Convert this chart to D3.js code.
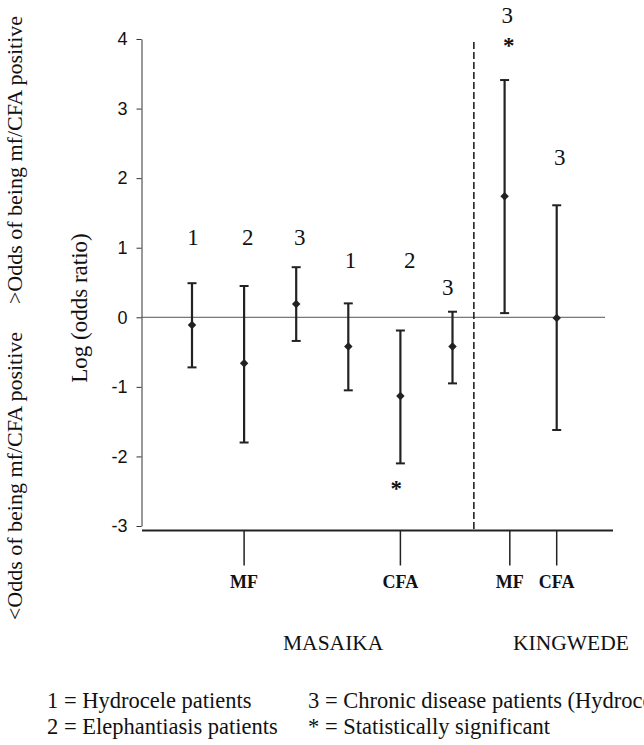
<!DOCTYPE html>
<html>
<head>
<meta charset="utf-8">
<script src="https://d3js.org/d3.v7.min.js"></script>
<style>
  body { margin: 0; background: #fff; }
  .tick text { font-family: "Liberation Sans"; font-size: 18px; fill: #111; }
</style>
</head>
<body>
<script>
// data (log odds ratio with 95% CI)
const sites    = ['MASAIKA', 'MASAIKA', 'MASAIKA', 'MASAIKA', 'MASAIKA', 'MASAIKA', 'KINGWEDE', 'KINGWEDE'];
const markers  = ['MF', 'MF', 'MF', 'CFA', 'CFA', 'CFA', 'MF', 'CFA'];
const groups   = ['1', '2', '3', '1', '2', '3', '3', '3'];
const estimate = [-0.11, -0.66, 0.19, -0.42, -1.13, -0.42, 1.74, -0.01];
const lower    = [-0.72, -1.80, -0.34, -1.05, -2.10, -0.95, 0.06, -1.62];
const upper    = [0.49, 0.45, 0.72, 0.20, -0.19, 0.08, 3.41, 1.61];
const signif   = [false, false, false, false, true, false, true, false];

// where the group numbers sit (index units, log odds)
const labelPos = [0.02, 1.07, 2.07, 3.04, 4.18, 4.91, 6.05, 7.06];
const labelY   = [1.16, 1.16, 1.16, 0.83, 0.83, 0.43, 4.35, 2.31];
const starPos  = [null, null, null, null, 3.92, null, 6.08, null];
const starY    = [null, null, null, null, -2.37, null, 4.0, null];

const yTicks = [-3, -2, -1, 0, 1, 2, 3, 4];
const xTickPos = [1, 4, 6.1, 7];
const xTickLabels = ['MF', 'CFA', 'MF', 'CFA'];
const siteNames = ['MASAIKA', 'KINGWEDE'];
const divider = 5.41;

const legendLeft = ['1 = Hydrocele patients', '2 = Elephantiasis patients'];
const legendRight = ['3 = Chronic disease patients (Hydrocele and Elephantiasis)', '* = Statistically significant'];

const serif = '"Liberation Serif"';
const width = 644, height = 745;
const svg = d3.select('body').append('svg').attr('width', width).attr('height', height);

const y = d3.scaleLinear().domain([-3, 4]).range([526, 39]);
const x = d3.scaleLinear().domain([0, 7]).range([192, 556.7]);
const axisX = 141.5, baseY = 530.5;

// y axis
svg.append('g').attr('transform', `translate(${axisX},0)`)
  .call(d3.axisLeft(y).tickValues(yTicks).tickFormat(d => String(d)).tickSize(5).tickSizeOuter(0).tickPadding(9))
  .call(g => g.attr('font-family', null).attr('font-size', null))
  .call(g => g.selectAll('path, line').attr('stroke', '#333'));

// zero reference line
svg.append('line').attr('x1', axisX).attr('x2', 605).attr('y1', y(0)).attr('y2', y(0))
  .attr('stroke', '#555').attr('stroke-width', 1);

// bottom line with category ticks
svg.append('line').attr('x1', 142).attr('x2', 613).attr('y1', baseY).attr('y2', baseY)
  .attr('stroke', '#222').attr('stroke-width', 2);
const xt = svg.append('g').selectAll('g').data(xTickPos).join('g')
  .attr('transform', d => `translate(${x(d)},${baseY})`);
xt.append('line').attr('y1', 0).attr('y2', 35).attr('stroke', '#222').attr('stroke-width', 1.5);
xt.append('text').style('font-family', serif).attr('fill', '#111').attr('y', 57).attr('text-anchor', 'middle')
  .attr('font-size', 18).attr('font-weight', 'bold').text((d, i) => xTickLabels[i]);

// dashed divider between the sites
svg.append('line').attr('x1', x(divider)).attr('x2', x(divider)).attr('y1', 42).attr('y2', baseY)
  .attr('stroke', '#222').attr('stroke-width', 1.6).attr('stroke-dasharray', '7,3');

// error bars
const rows = estimate.map((e, i) => ({i, e, lo: lower[i], hi: upper[i]}));
const bars = svg.append('g').selectAll('g').data(rows).join('g');
bars.append('line').attr('x1', d => x(d.i)).attr('x2', d => x(d.i))
  .attr('y1', d => y(d.lo)).attr('y2', d => y(d.hi)).attr('stroke', '#222').attr('stroke-width', 2.2);
bars.append('line').attr('x1', d => x(d.i) - 4.5).attr('x2', d => x(d.i) + 4.5)
  .attr('y1', d => y(d.hi)).attr('y2', d => y(d.hi)).attr('stroke', '#222').attr('stroke-width', 2);
bars.append('line').attr('x1', d => x(d.i) - 4.5).attr('x2', d => x(d.i) + 4.5)
  .attr('y1', d => y(d.lo)).attr('y2', d => y(d.lo)).attr('stroke', '#222').attr('stroke-width', 2);
bars.append('path').attr('d', d3.symbol(d3.symbolDiamond2, 46))
  .attr('transform', d => `translate(${x(d.i)},${y(d.e)})`).attr('fill', '#222');

// group numbers and significance stars
svg.append('g').selectAll('text').data(groups).join('text').style('font-family', serif).attr('fill', '#111')
  .attr('x', (d, i) => x(labelPos[i])).attr('y', (d, i) => y(labelY[i]))
  .attr('dy', '0.35em').attr('text-anchor', 'middle').attr('font-size', 23).text(d => d);
svg.append('g').selectAll('text').data(signif.map((s, i) => i).filter(i => signif[i])).join('text')
  .style('font-family', serif).attr('fill', '#111').attr('x', i => x(starPos[i])).attr('y', i => y(starY[i]))
  .attr('dy', '0.62em').attr('text-anchor', 'middle').attr('font-size', 23).attr('font-weight', 'bold').text('*');

// y titles
const title = (t, tx, ty, fs) => svg.append('text').style('font-family', serif).attr('fill', '#111')
  .attr('font-size', fs).attr('text-anchor', 'middle')
  .attr('transform', `translate(${tx},${ty}) rotate(-90)`).text(t);
title('Log (odds ratio)', 87, 308, 23);
title('>Odds of being mf/CFA positive', 22, 160, 22);
title('<Odds of being mf/CFA positive', 22, 476, 22);

// site names
svg.selectAll('.site').data(siteNames).join('text').attr('class', 'site').style('font-family', serif).attr('fill', '#111')
  .attr('x', (d, i) => [283, 513][i]).attr('y', 650).attr('font-size', 21.5).text(d => d);

// legend
svg.selectAll('.legL').data(legendLeft).join('text').attr('class', 'legL').style('font-family', serif).attr('fill', '#111')
  .attr('x', 47).attr('y', (d, i) => 708 + i * 26).attr('font-size', 22.5).text(d => d);
svg.selectAll('.legR').data(legendRight).join('text').attr('class', 'legR').style('font-family', serif).attr('fill', '#111')
  .attr('x', 308).attr('y', (d, i) => 708 + i * 26).attr('font-size', 22.5).text(d => d);
</script>
</body>
</html>
